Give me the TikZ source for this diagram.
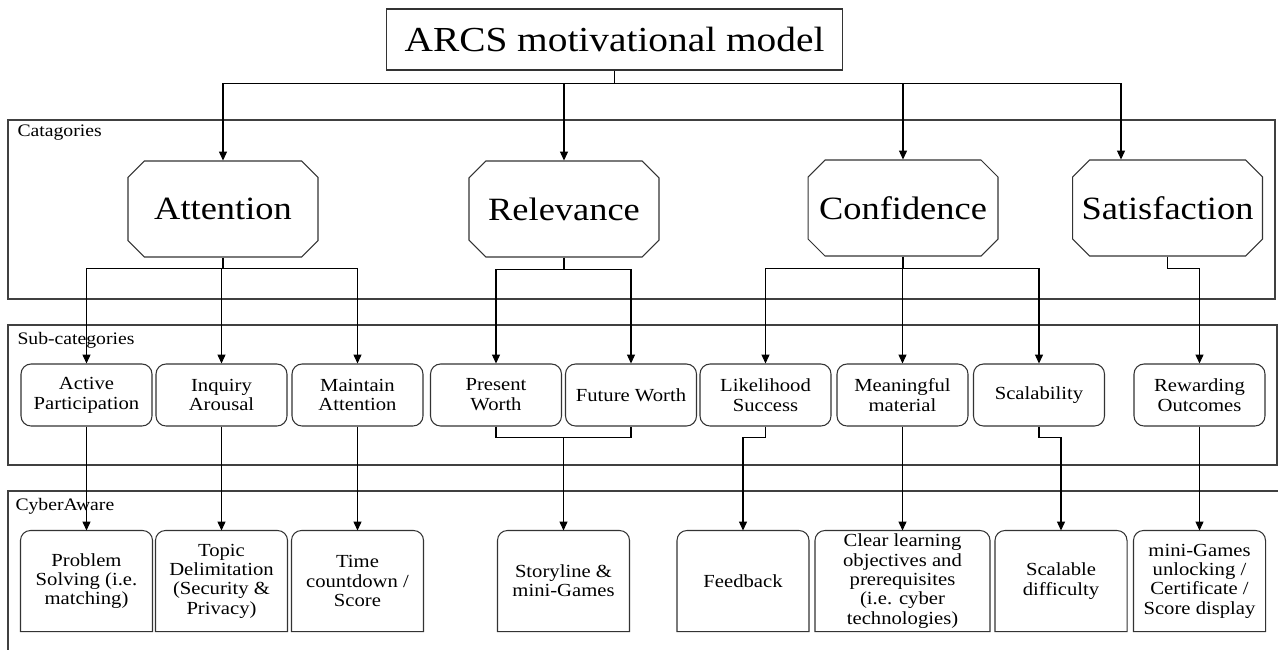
\documentclass[tikz,border=0pt]{standalone}
\usepackage{fontspec}
\setmainfont{Liberation Serif}[FakeStretch=1.12]
\usetikzlibrary{shapes.misc,arrows.meta}

\tikzset{
	frame/.style={draw=black!75, line width=0.6pt},
	tag/.style={anchor=west, inner sep=0pt, font=\fontsize{10}{11}\selectfont},
	catbox/.style={draw=black!80, chamfered rectangle, chamfered rectangle xsep=0.36cm, minimum width=3.8cm, minimum height=1.92cm, inner xsep=-2.5pt, inner ysep=0pt, font=\fontsize{18.5}{20}\selectfont},
	subbox/.style={draw=black!80, rounded corners=0.2cm, minimum width=2.62cm, minimum height=1.24cm, inner sep=1pt, align=center, font=\fontsize{10.5}{11.3}\selectfont},
	toolbox/.style={minimum width=2.62cm, minimum height=2cm, inner sep=1pt, align=center, font=\fontsize{10.5}{11}\selectfont},
	arr/.style={-{Triangle[length=5pt,width=4.5pt]}},
}

\begin{document}
\begin{tikzpicture}[x=0.02cm, y=-0.02cm, line width=0.6pt]
\useasboundingbox (0,0) rectangle (1278,650);

\draw[frame] (8,120) rectangle (1275,299);
\draw[frame] (8,325) rectangle (1277,465);
\draw[frame] (1278,491) -- (8,491) -- (8,650);
\node[tag] (lcat) at (17,133) {Catagories};
\node[tag] (lsub) at (17,340) {Sub-categories};
\node[tag] (lcyb) at (15,506) {CyberAware};

\node[draw=black!80, minimum width=9.14cm, minimum height=1.22cm, font=\fontsize{20}{22}\selectfont] (arcs) at (614.5,39.5) {ARCS motivational model};

\node[catbox] (att) at (223,209) {Attention};
\node[catbox] (rel) at (564,209) {Relevance};
\node[catbox] (con) at (903,208) {Confidence};
\node[catbox] (sat) at (1167.5,208) {Satisfaction};

\node[subbox] (ap) at (86.5,395) {Active\\Participation};
\node[subbox] (ia) at (221.5,395) {Inquiry\\Arousal};
\node[subbox] (ma) at (357.5,395) {Maintain\\Attention};
\node[subbox] (pw) at (496,395) {Present\\Worth};
\node[subbox] (fw) at (631,395) {Future Worth};
\node[subbox] (ls) at (765.5,395) {Likelihood\\Success};
\node[subbox] (mm) at (902.5,395) {Meaningful\\material};
\node[subbox] (sc) at (1039,395) {Scalability};
\node[subbox] (ro) at (1199.5,395) {Rewarding\\Outcomes};

\node[toolbox] (ps) at (86.5,581) {Problem\\Solving (i.e.\\matching)};
\node[toolbox] (td) at (221.5,581) {Topic\\Delimitation\\(Security \&\\Privacy)};
\node[toolbox] (tc) at (357.5,581) {Time\\countdown /\\Score};
\node[toolbox] (sm) at (563.5,581) {Storyline \&\\mini-Games};
\node[toolbox] (fb) at (743,581) {Feedback};
\node[toolbox, minimum width=3.48cm] (cl) at (902.5,581) {Clear learning\\objectives and\\prerequisites\\(i.e. cyber\\technologies)};
\node[toolbox] (sd) at (1061,581) {Scalable\\difficulty};
\node[toolbox] (mg) at (1199.5,581) {mini-Games\\unlocking /\\Certificate /\\Score display};
\foreach \n in {ps,td,tc,sm,fb,cl,sd,mg}
	\draw[black!80] (\n.south west) [rounded corners=0.2cm] -- (\n.north west) -- (\n.north east) [sharp corners] -- (\n.south east) -- cycle;

\draw (arcs.south) -- ++(0,13) coordinate (bus);
\foreach \n in {att,rel,con}
	\draw[arr] (bus) -| (\n.north);
\draw[arr] (bus) -| ([xshift=-0.93cm]sat.north);

\draw (att.south) -- ++(0,11) coordinate (ba);
\foreach \n in {ap,ia,ma}
	\draw[arr] (ba) -| (\n.north);
\draw (rel.south) -- ++(0,12) coordinate (br);
\foreach \n in {pw,fw}
	\draw[arr] (br) -| (\n.north);
\draw (con.south) -- ++(0,12) coordinate (bc);
\foreach \n in {ls,mm,sc}
	\draw[arr] (bc) -| (\n.north);
\draw[arr] (sat.south) -- ++(0,12) -| (ro.north);

\draw[arr] (ap.south) -- (ps.north);
\draw[arr] (ia.south) -- (td.north);
\draw[arr] (ma.south) -- (tc.north);
\draw (pw.south) -- ++(0,11) coordinate (bw) -| (fw.south);
\draw[arr] (bw -| sm.north) -- (sm.north);
\draw[arr] (ls.south) -- ++(0,11) -| (fb.north);
\draw[arr] (mm.south) -- (cl.north);
\draw[arr] (sc.south) -- ++(0,11) -| (sd.north);
\draw[arr] (ro.south) -- (mg.north);
\end{tikzpicture}
\end{document}
